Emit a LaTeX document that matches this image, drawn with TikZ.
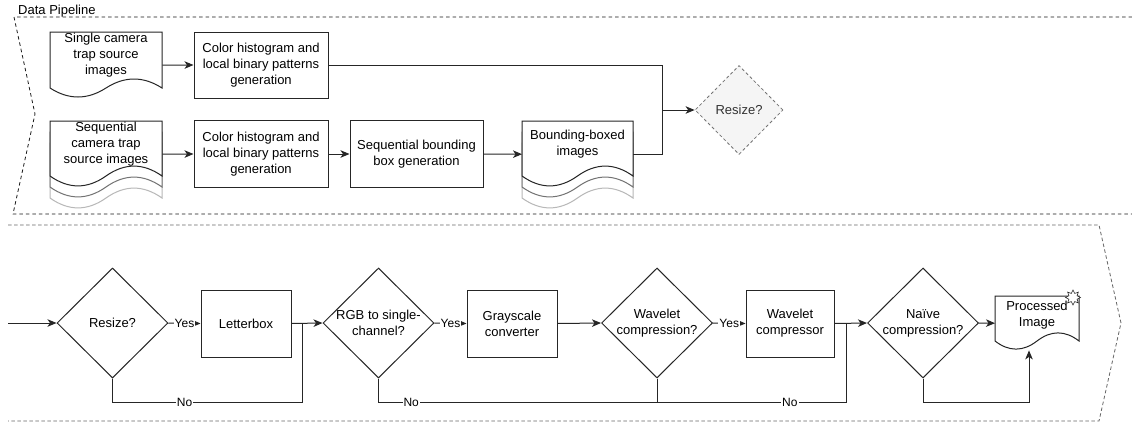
\documentclass[tikz,border=0pt]{standalone}
\usepackage{fontspec}
\setmainfont{Liberation Sans}
\usetikzlibrary{shapes.geometric,arrows.meta,calc}

% document outline: x0, y0, width, height, wave depth, style
\newcommand\docoutline[6]{%
  \draw[#6] (#1,#2) -- (#1+#3,#2) -- (#1+#3,#2+#4-#5/2)
    .. controls (#1+5*#3/6,#2+#4-1.1*#5) and (#1+2*#3/3,#2+#4-1.1*#5) .. (#1+#3/2,#2+#4-#5/2)
    .. controls (#1+#3/3,#2+#4+0.1*#5) and (#1+#3/6,#2+#4+0.1*#5) .. (#1,#2+#4-#5/2) -- cycle;}

\begin{document}
\begin{tikzpicture}[x=1pt,y=-1pt,
  font=\fontsize{13}{16}\selectfont,
  line/.style={draw=black!85, line width=1pt},
  arr/.style={line, -{Stealth[length=9pt,width=7.5pt,inset=2.5pt]}},
  procbox/.style={rectangle, draw=black!85, line width=1pt, inner sep=0pt, align=center},
  decision/.style={diamond, draw=black!85, line width=1pt, inner sep=0pt,
    minimum width=111pt, minimum height=110pt},
  optdecision/.style={diamond, draw=black!55, fill=black!4, line width=0.8pt,
    dash pattern=on 3pt off 2.5pt, inner sep=0pt, minimum width=88pt, minimum height=89pt},
  docnode/.style={rectangle, inner sep=0pt},
  txt/.style={align=center, inner sep=0pt},
  edgelbl/.style={fill=white, inner sep=1pt, font=\fontsize{12}{14}\selectfont},
  docfront/.style={draw=black!85, line width=1pt, fill=white},
  docmid/.style={draw=black!55, line width=1pt, fill=white},
  docback/.style={draw=black!28, line width=1pt, fill=white},
  frameA/.style={draw=black!90, line width=0.8pt, dash pattern=on 3.5pt off 3pt},
  frameB/.style={draw=black!60, line width=0.8pt, dash pattern=on 3.5pt off 2.5pt}]

\useasboundingbox[fill=white] (0,0) rectangle (1132,423);

% ---------- frames ----------
\draw[frameA] (1132,17) -- (14,17) -- (35,114) -- (13,214) -- (1132,214);
\node[anchor=base west, inner sep=0pt] (title) at (18,14.5) {Data Pipeline};
\draw[frameB] (8,225) -- (1099,225) -- (1121,323) -- (1099,421) -- (8,421);

% ---------- data pipeline, upper part ----------
\docoutline{50}{32}{112}{66}{20}{docfront}
\node[docnode, minimum width=112pt, minimum height=66pt, anchor=north west] (src1) at (50,32) {};
\node[txt] (src1t) at (106,55) {Single camera\\trap source\\images};

\docoutline{50}{143}{112}{66}{22}{docback}
\docoutline{50}{132}{112}{66}{22}{docmid}
\docoutline{50}{121}{112}{66}{22}{docfront}
\node[docnode, minimum width=112pt, minimum height=66pt, anchor=north west] (src2) at (50,121) {};
\node[txt] (src2t) at (106,144) {Sequential\\camera trap\\source images};

\node[procbox, minimum width=134pt, minimum height=66pt] (feat1) at (261,65)
  {Color histogram and\\local binary patterns\\generation};
\node[procbox, minimum width=134pt, minimum height=67pt] (feat2) at (261,154)
  {Color histogram and\\local binary patterns\\generation};
\node[procbox, minimum width=133pt, minimum height=67pt] (seqbb) at (416.5,154)
  {Sequential bounding\\box generation};

\docoutline{522}{143}{111}{66}{22}{docback}
\docoutline{522}{132}{111}{66}{22}{docmid}
\docoutline{522}{121}{111}{66}{22}{docfront}
\node[docnode, minimum width=111pt, minimum height=66pt, anchor=north west] (bbimg) at (522,121) {};
\node[txt] (bbimgt) at (577.5,144) {Bounding-boxed\\images};

\node[optdecision] (rz0) at (739,110) {};
\node[txt, text=black!80] (rz0t) at (rz0) {Resize?};

\coordinate (jtop) at (662,110);
\draw[arr] (src1.east) -- (feat1.west);
\draw[arr] (src2.east) -- (feat2.west);
\draw[arr] (feat2.east) -- (seqbb.west);
\draw[arr] (seqbb.east) -- (bbimg.west);
\draw[line] (feat1.east) -| (jtop);
\draw[line] (bbimg.east) -| (jtop);
\draw[arr] (jtop) -- (rz0.west);

% ---------- data pipeline, lower part ----------
\node[decision] (dres) at (112.5,323) {};
\node[txt] (drest) at (dres) {Resize?};
\node[procbox, minimum width=90pt, minimum height=67pt] (lbox) at (246,323.5) {Letterbox};
\node[decision] (drgb) at (378.5,323) {};
\node[txt] (drgbt) at (drgb) {RGB to single-\\channel?};
\node[procbox, minimum width=90pt, minimum height=67pt] (gray) at (512,323.5) {Grayscale\\converter};
\node[decision] (dwav) at (657,323) {};
\node[txt] (dwavt) at (dwav) {Wavelet\\compression?};
\node[procbox, minimum width=88pt, minimum height=67pt] (wcomp) at (790,323.5) {Wavelet\\compressor};
\node[decision] (dnai) at (923,323) {};
\node[txt] (dnait) at (dnai) {Na\"{\i}ve\\compression?};

\docoutline{995}{296}{84}{54}{18}{docfront}
\node[docnode, minimum width=84pt, minimum height=54pt, anchor=north west] (pimg) at (995,296) {};
\node[txt] (pimgt) at (1037,315) {Processed\\Image};
\node[star, star points=8, star point ratio=1.7, minimum size=15pt, inner sep=0pt,
  draw=black!85, fill=white, line width=0.6pt] (burst) at (1073,297.5) {};

\coordinate (in) at (8,323);
\coordinate (j1) at (302,323);
\coordinate (n1) at (302,402);
\coordinate (j2) at (846,323);
\coordinate (n2) at (846,402);
\coordinate (n3) at (1029,402);

\draw[arr] (in) -- (dres.west);
\draw[arr] (dres.east) -- node[edgelbl] {Yes} (lbox.west);
\draw[arr] (lbox.east) -- (drgb.west);
\draw[line] (dres.south) |- node[edgelbl, pos=0.69] {No} (n1) -- (j1);

\draw[arr] (drgb.east) -- node[edgelbl] {Yes} (gray.west);
\draw[arr] (gray.east) -- (dwav.west);
\draw[arr] (dwav.east) -- node[edgelbl] {Yes} (wcomp.west);
\draw[arr] (wcomp.east) -- (dnai.west);
\draw[line] (drgb.south) |- node[edgelbl, pos=0.535] {No} node[edgelbl, pos=0.94] {No} (n2) -- (j2);
\draw[line] (dwav.south) -- (dwav.south |- n2);

\draw[arr] (dnai.east) -- (pimg.west);
\draw[arr] (dnai.south) |- (n3) -- (n3 |- pimg.south);
\end{tikzpicture}
\end{document}
